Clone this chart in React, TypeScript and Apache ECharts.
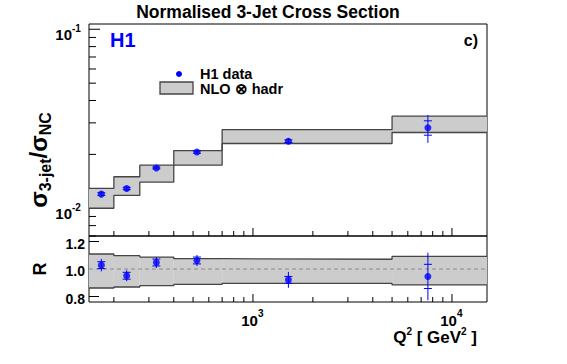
import React, { useEffect, useRef } from "react";
import * as echarts from "echarts";

// Q2 bin edges [GeV^2]
const binEdges = [150, 200, 270, 400, 700, 5000, 15000];
// NLO x hadr band (normalised 3-jet cross section)
const nloLow = [0.01, 0.0118, 0.014, 0.0174, 0.023, 0.0265];
const nloHigh = [0.0129, 0.015, 0.0174, 0.021, 0.0275, 0.0327];
// H1 data
const q2Points = [173, 232, 327, 523, 1507, 7570];
const xsec = [0.012, 0.0129, 0.0168, 0.0206, 0.0237, 0.0282];
const xsecStat = [0.0002, 0.0002, 0.0002, 0.0003, 0.0004, 0.0026];
const xsecTot = [0.0004, 0.0004, 0.0004, 0.0005, 0.0009, 0.005];
// Ratio panel
const ratioBandLow = [0.862, 0.869, 0.879, 0.888, 0.895, 0.884];
const ratioBandHigh = [1.109, 1.097, 1.087, 1.075, 1.071, 1.092];
const ratio = [1.028, 0.951, 1.047, 1.062, 0.921, 0.946];
const ratioStat = [0.025, 0.025, 0.025, 0.025, 0.025, 0.088];
const ratioTot = [0.045, 0.04, 0.04, 0.04, 0.058, 0.173];
// Axis ticks / labels
const xTicks = [200, 300, 400, 500, 600, 700, 800, 900, 1000, 2000, 3000, 4000, 5000, 6000, 7000, 8000, 9000, 10000];
const xTickLabels = [{ v: 1000, base: "10", exp: "3" }, { v: 10000, base: "10", exp: "4" }];
const yTicksTop = [0.007, 0.008, 0.009, 0.01, 0.02, 0.03, 0.04, 0.05, 0.06, 0.07, 0.08, 0.09, 0.1];
const yTopLabels = [{ v: 0.01, base: "10", exp: "-2" }, { v: 0.1, base: "10", exp: "-1" }];
const yTicksRatio = [0.8, 0.9, 1.0, 1.1, 1.2];
const yRatioLabels = ["0.8", "1.0", "1.2"];

const FONT = "'Liberation Sans', Arial, Helvetica, sans-serif";
const BLUE = "#0000ff";
const BAND = "#cccccc";
const BAND_LINE = "#444444";

const isPow10 = (v: number) => Math.abs(Math.log10(v) - Math.round(Math.log10(v))) < 1e-9;

function stepData(vals: number[]) {
  return binEdges.map((x, i) => [x, vals[Math.min(i, vals.length - 1)]]);
}

function bandSeries(xi: number, lo: number[], hi: number[]) {
  return {
    type: "custom",
    xAxisIndex: xi,
    yAxisIndex: xi,
    silent: true,
    z: 2,
    data: lo.map((l, i) => [binEdges[i], binEdges[i + 1], l, hi[i]]),
    encode: { x: [0, 1], y: [2, 3] },
    renderItem: (_p: any, api: any) => {
      const a = api.coord([api.value(0), api.value(3)]);
      const b = api.coord([api.value(1), api.value(2)]);
      return {
        type: "rect",
        shape: { x: a[0], y: a[1], width: b[0] - a[0], height: b[1] - a[1] },
        style: { fill: BAND },
      };
    },
  };
}

function stepLine(xi: number, vals: number[]) {
  return {
    type: "line",
    xAxisIndex: xi,
    yAxisIndex: xi,
    step: "end",
    symbol: "none",
    silent: true,
    z: 3,
    data: stepData(vals),
    lineStyle: { color: BAND_LINE, width: 1.3 },
  };
}

function errSeries(xi: number, ys: number[], st: number[], tot: number[], capW: number) {
  return {
    type: "custom",
    xAxisIndex: xi,
    yAxisIndex: xi,
    silent: true,
    z: 5,
    data: ys.map((y, i) => [q2Points[i], y, st[i], tot[i]]),
    encode: { x: 0, y: 1 },
    renderItem: (_p: any, api: any) => {
      const x = api.value(0), y = api.value(1), s = api.value(2), t = api.value(3);
      const c = api.coord([x, y]);
      const tt = api.coord([x, y + t]);
      const tb = api.coord([x, y - t]);
      const st2 = api.coord([x, y + s]);
      const sb = api.coord([x, y - s]);
      const stl = { stroke: BLUE, lineWidth: 1 };
      return {
        type: "group",
        children: [
          { type: "line", shape: { x1: c[0], y1: tt[1], x2: c[0], y2: tb[1] }, style: stl },
          { type: "line", shape: { x1: c[0] - capW, y1: st2[1], x2: c[0] + capW, y2: st2[1] }, style: stl },
          { type: "line", shape: { x1: c[0] - capW, y1: sb[1], x2: c[0] + capW, y2: sb[1] }, style: stl },
        ],
      };
    },
  };
}

function pointSeries(xi: number, ys: number[]) {
  return {
    type: "scatter",
    xAxisIndex: xi,
    yAxisIndex: xi,
    symbol: "circle",
    symbolSize: 7,
    silent: true,
    z: 6,
    itemStyle: { color: BLUE },
    data: ys.map((y, i) => [q2Points[i], y]),
  };
}

const labelStyle = (size: number) => ({ font: `bold ${size}px ${FONT}`, fill: "#000" });

function xTickSeries(xi: number, yRef: number, withLabels: boolean) {
  return {
    type: "custom",
    xAxisIndex: xi,
    yAxisIndex: xi,
    silent: true,
    clip: false,
    z: 1,
    data: xTicks.map((v) => [v, yRef]),
    encode: { x: 0, y: 1 },
    renderItem: (params: any, api: any) => {
      const v = api.value(0);
      const p = api.coord([v, yRef]);
      const bottom = params.coordSys.y + params.coordSys.height;
      const major = isPow10(v);
      const len = major ? 8 : 5;
      const children: any[] = [
        { type: "line", shape: { x1: p[0], y1: bottom, x2: p[0], y2: bottom - len }, style: { stroke: "#000", lineWidth: 1 } },
      ];
      if (withLabels && major) {
        const lab = xTickLabels.find((l) => l.v === v);
        if (lab) {
          children.push({ type: "text", style: { ...labelStyle(15), text: lab.base, x: p[0] + 5, y: bottom + 18, align: "right", verticalAlign: "middle" } });
          children.push({ type: "text", style: { ...labelStyle(10), text: lab.exp, x: p[0] + 5, y: bottom + 11, align: "left", verticalAlign: "middle" } });
        }
      }
      return { type: "group", children };
    },
  };
}

function yTopTickSeries() {
  return {
    type: "custom",
    xAxisIndex: 0,
    yAxisIndex: 0,
    silent: true,
    clip: false,
    z: 1,
    data: yTicksTop.map((v) => [binEdges[0], v]),
    encode: { x: 0, y: 1 },
    renderItem: (params: any, api: any) => {
      const v = api.value(1);
      const p = api.coord([binEdges[0], v]);
      const left = params.coordSys.x;
      const major = isPow10(v);
      const len = major ? 11 : 7;
      const children: any[] = [
        { type: "line", shape: { x1: left, y1: p[1], x2: left + len, y2: p[1] }, style: { stroke: "#000", lineWidth: 1 } },
      ];
      const lab = yTopLabels.find((l) => Math.abs(l.v - v) < 1e-12);
      if (lab) {
        children.push({ type: "text", style: { ...labelStyle(15), text: lab.base, x: left - 17, y: p[1] + 5, align: "right", verticalAlign: "middle" } });
        children.push({ type: "text", style: { ...labelStyle(10), text: lab.exp, x: left - 17, y: p[1] - 1, align: "left", verticalAlign: "middle" } });
      }
      return { type: "group", children };
    },
  };
}

function yRatioTickSeries() {
  return {
    type: "custom",
    xAxisIndex: 1,
    yAxisIndex: 1,
    silent: true,
    clip: false,
    z: 1,
    data: yTicksRatio.map((v) => [binEdges[0], v]),
    encode: { x: 0, y: 1 },
    renderItem: (params: any, api: any) => {
      const v = api.value(1);
      const p = api.coord([binEdges[0], v]);
      const left = params.coordSys.x;
      const txt = v.toFixed(1);
      const major = yRatioLabels.indexOf(txt) >= 0;
      const len = major ? 10 : 5;
      const children: any[] = [
        { type: "line", shape: { x1: left, y1: p[1], x2: left + len, y2: p[1] }, style: { stroke: "#000", lineWidth: 1 } },
      ];
      if (major) {
        children.push({ type: "text", style: { ...labelStyle(14), text: txt, x: left - 4, y: p[1] + 2, align: "right", verticalAlign: "middle" } });
      }
      return { type: "group", children };
    },
  };
}

export default function App() {
  const ref = useRef<HTMLDivElement>(null);
  useEffect(() => {
    if (!ref.current) return;
    const chart = echarts.init(ref.current, undefined, { renderer: "svg" });
    const hidden = { axisLine: { show: false }, axisTick: { show: false }, axisLabel: { show: false }, splitLine: { show: false } };
    const option: any = {
      animation: false,
      backgroundColor: "#ffffff",
      grid: [
        { left: 89, top: 24, width: 398, height: 212, show: true, borderColor: "#000", borderWidth: 1, backgroundColor: "transparent" },
        { left: 89, top: 236, width: 398, height: 66, show: true, borderColor: "#000", borderWidth: 1, backgroundColor: "transparent" },
      ],
      xAxis: [
        { type: "log", logBase: 10, gridIndex: 0, min: 150, max: 15000, ...hidden },
        { type: "log", logBase: 10, gridIndex: 1, min: 150, max: 15000, ...hidden },
      ],
      yAxis: [
        { type: "log", logBase: 10, gridIndex: 0, min: 0.007, max: 0.107, ...hidden },
        { type: "value", gridIndex: 1, min: 0.76, max: 1.24, ...hidden },
      ],
      series: [
        xTickSeries(0, 0.01, false),
        xTickSeries(1, 1.0, true),
        yTopTickSeries(),
        yRatioTickSeries(),
        bandSeries(0, nloLow, nloHigh),
        stepLine(0, nloLow),
        stepLine(0, nloHigh),
        bandSeries(1, ratioBandLow, ratioBandHigh),
        stepLine(1, ratioBandLow),
        stepLine(1, ratioBandHigh),
        {
          type: "line",
          xAxisIndex: 1,
          yAxisIndex: 1,
          symbol: "none",
          silent: true,
          z: 4,
          data: [[binEdges[0], 1], [binEdges[binEdges.length - 1], 1]],
          lineStyle: { color: "#8a8a8a", width: 1, type: [4, 3] },
        },
        errSeries(0, xsec, xsecStat, xsecTot, 4),
        pointSeries(0, xsec),
        errSeries(1, ratio, ratioStat, ratioTot, 4),
        pointSeries(1, ratio),
      ],
      graphic: [
        { type: "text", x: 268, y: 12, style: { text: "Normalised 3-Jet Cross Section", font: `bold 17.5px ${FONT}`, fill: "#000", align: "center", verticalAlign: "middle" } },
        { type: "text", x: 110, y: 40, style: { text: "H1", font: `bold 20px ${FONT}`, fill: BLUE, align: "left", verticalAlign: "middle" } },
        { type: "text", x: 478, y: 40, style: { text: "c)", font: `bold 16px ${FONT}`, fill: "#000", align: "right", verticalAlign: "middle" } },
        { type: "circle", shape: { cx: 179, cy: 74, r: 3 }, style: { fill: BLUE } },
        { type: "text", x: 200, y: 73.5, style: { text: "H1 data", font: `bold 14.5px ${FONT}`, fill: "#000", align: "left", verticalAlign: "middle" } },
        { type: "rect", shape: { x: 160, y: 82, width: 33, height: 12 }, style: { fill: BAND, stroke: BAND_LINE, lineWidth: 1.3 } },
        { type: "text", x: 200, y: 88.5, style: { text: "NLO ⊗ hadr", font: `bold 14.5px ${FONT}`, fill: "#000", align: "left", verticalAlign: "middle" } },
        {
          type: "text",
          x: 38,
          y: 160,
          rotation: Math.PI / 2,
          style: {
            text: "{s|σ}{b|3-jet}{s|/σ}{b|NC}",
            align: "center",
            verticalAlign: "middle",
            rich: {
              s: { font: `bold 24px ${FONT}`, fill: "#000", lineHeight: 30, verticalAlign: "middle" },
              b: { font: `bold 16px ${FONT}`, fill: "#000", lineHeight: 16, verticalAlign: "bottom" },
            },
          },
        },
        { type: "text", x: 40, y: 269, rotation: Math.PI / 2, style: { text: "R", font: `bold 18px ${FONT}`, fill: "#000", align: "center", verticalAlign: "middle" } },
        {
          type: "text",
          x: 477,
          y: 336,
          style: {
            text: "{b|Q}{s|2}{b| [ GeV}{s|2}{b| ]}",
            align: "right",
            verticalAlign: "middle",
            rich: {
              b: { font: `bold 17px ${FONT}`, fill: "#000", lineHeight: 20, verticalAlign: "bottom" },
              s: { font: `bold 10px ${FONT}`, fill: "#000", lineHeight: 10, verticalAlign: "top" },
            },
          },
        },
      ],
    };
    chart.setOption(option);
    return () => chart.dispose();
  }, []);
  return <div ref={ref} style={{ position: "fixed", left: 0, top: 0, width: 567, height: 364 }} />;
}
